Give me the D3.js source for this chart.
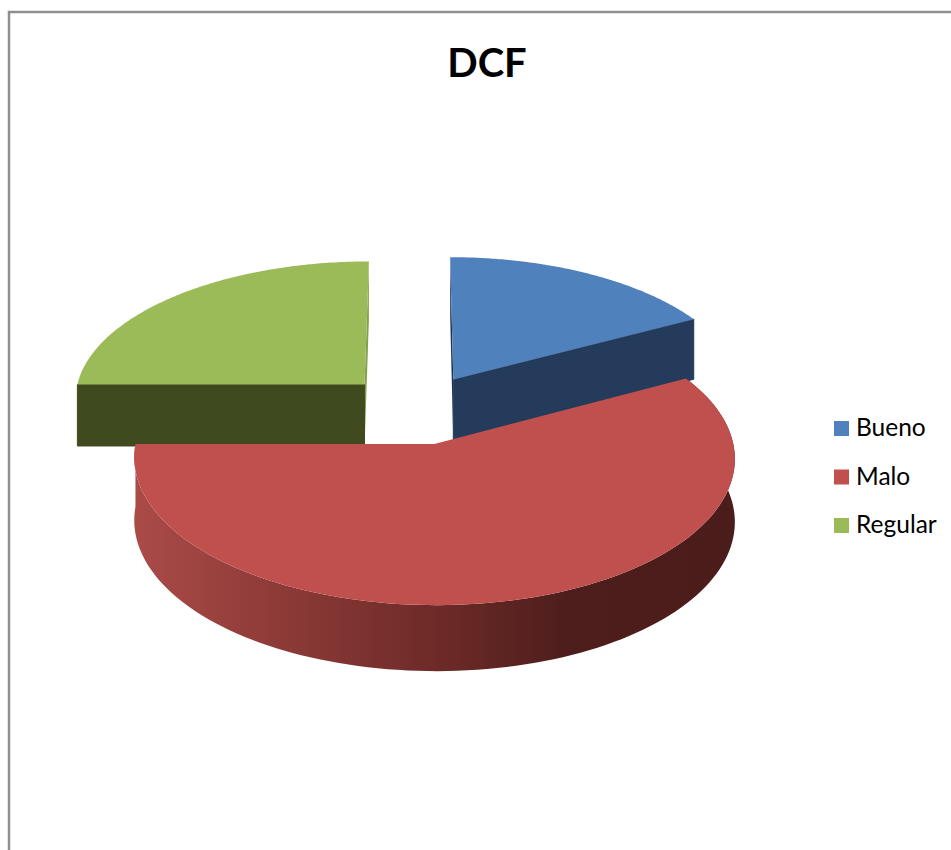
<!DOCTYPE html>
<html><head><meta charset="utf-8">
<script src="https://cdn.jsdelivr.net/npm/d3@7"></script>
<style>html,body{margin:0;padding:0;background:#fff;overflow:hidden}svg{display:block}</style>
</head><body><svg id="c" width="951" height="850"></svg>
<script>
const title = "DCF";
const categories = ["Bueno", "Malo", "Regular"];
const values = [17.2, 57.8, 25];
const colors = ["#4f81bd", "#c0504d", "#9bbb59"];
const wallColors = ["#243b5c", "#7a2f2c", "#404a1f"];
const thinEdge = ["#1f3350", "#7a2f2c", "#84a04c"];

const svg = d3.select("#c");
const font = "Lato, 'Open Sans', sans-serif";
const ox = 416, oy = 409, R = 292, e = 74, k = 0.094, A = 139, depth = 62;

svg.append("path").attr("d", "M9,850V12H951").attr("fill", "none").attr("stroke", "#8f8f8f").attr("stroke-width", 2.5);

const defs = svg.append("defs");
const grad = defs.append("linearGradient").attr("id", "wallMalo").attr("gradientUnits", "userSpaceOnUse")
  .attr("x1", 133).attr("x2", 734).attr("y1", 0).attr("y2", 0);
[[0, "#ab4b48"], [0.22, "#903c39"], [0.5, "#6e2b28"], [0.72, "#4e1e1c"], [1, "#4a1c1a"]].forEach(s =>
  grad.append("stop").attr("offset", s[0]).attr("stop-color", s[1]));

const arcs = d3.pie().sort(null).value(d => d).startAngle(0).endAngle(2 * Math.PI)(values);

function project(mid, theta, r, z) {
  const wx = e * Math.sin(mid) + r * Math.sin(theta);
  const wv = -e * Math.cos(mid) - r * Math.cos(theta);
  const s = 1 / (1 - k * wv / R);
  return [ox + wx * s, oy + (A / R) * wv * s + depth * z * Math.sqrt(s)];
}
const line = d3.line();
function rim(mid, a0, a1, z) {
  const n = 120;
  return d3.range(n + 1).map(i => project(mid, a0 + (a1 - a0) * i / n, R, z));
}
function cutFace(mid, a) {
  return line([project(mid, a, 0, 0), project(mid, a, R, 0), project(mid, a, R, 1), project(mid, a, 0, 1)]) + "Z";
}

// back slices first, front slice last
[2, 0, 1].forEach(i => {
  const d = arcs[i], mid = (d.startAngle + d.endAngle) / 2;
  const g = svg.append("g");
  if (i === 1) {
    const pts = rim(mid, d.startAngle, d.endAngle, 0).concat(rim(mid, d.endAngle, d.startAngle, 1));
    g.append("path").attr("d", line(pts) + "Z").attr("fill", "url(#wallMalo)");
  } else {
    const main = i === 0 ? d.endAngle : d.startAngle;
    const thin = i === 0 ? d.startAngle : d.endAngle;
    g.append("path").attr("d", cutFace(mid, thin)).attr("fill", thinEdge[i]);
    g.append("path").attr("d", cutFace(mid, main)).attr("fill", wallColors[i])
      .attr("stroke", wallColors[i]).attr("stroke-width", 1);
  }
  const top = [project(mid, 0, 0, 0)].concat(rim(mid, d.startAngle, d.endAngle, 0));
  g.append("path").attr("d", line(top) + "Z").attr("fill", colors[i]);
});

svg.append("text").attr("x", 487).attr("y", 77).attr("text-anchor", "middle")
  .attr("font-family", font).attr("font-weight", 700).attr("font-size", 40).attr("fill", "#000").text(title);

const legendY = d3.scalePoint().domain(categories).range([421, 518]);
const lg = svg.append("g").selectAll("g").data(categories).join("g");
lg.append("rect").attr("x", 834).attr("y", d => legendY(d)).attr("width", 15).attr("height", 15).attr("fill", (d, i) => colors[i]);
lg.append("text").attr("x", 856).attr("y", d => legendY(d) + 15).attr("font-family", font)
  .attr("font-size", 24.5).attr("fill", "#000").text(d => d);
</script></body></html>
